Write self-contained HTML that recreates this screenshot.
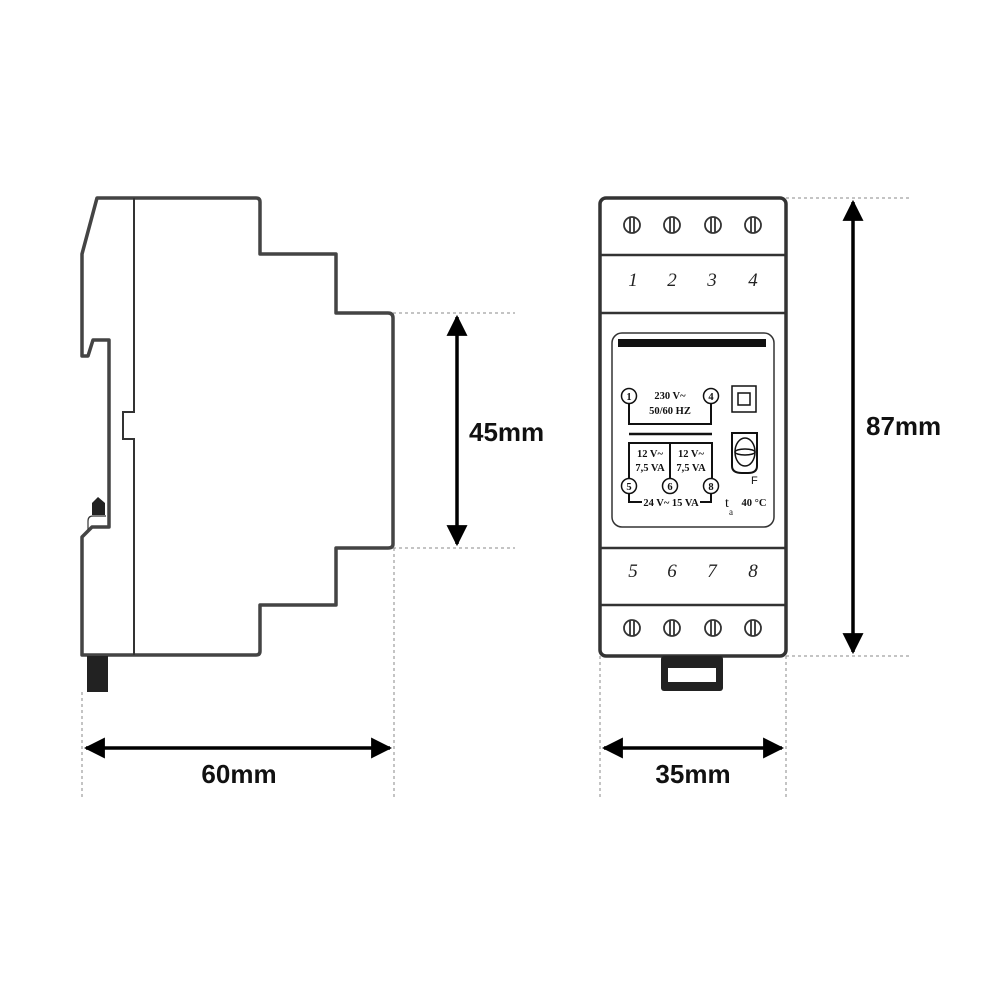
<!DOCTYPE html>
<html><head><style>body{margin:0;background:#fff}svg{display:block}</style></head><body>
<svg width="1000" height="1000" viewBox="0 0 1000 1000" xmlns="http://www.w3.org/2000/svg" font-family="Liberation Sans, sans-serif">
<defs><marker id="a" viewBox="0 0 10 10" refX="9" refY="5" markerWidth="6" markerHeight="6" orient="auto-start-reverse"><path d="M0,0L10,5L0,10z" fill="#000"/></marker></defs>
<g fill="none" stroke="#444" stroke-width="3.5" stroke-linejoin="round">
<path d="M97,198 L256,198 Q260,198 260,202 L260,254 L336,254 L336,313 L388,313 Q393,313 393,318 L393,544 Q393,548 388,548 L336,548 L336,605 L260,605 L260,651 Q260,655 256,655 L82,655 L82,537 L92,527 L109,527 L109,340 L93,340 L88,356 L82,356 L82,254 Z"/>
</g>
<path d="M134,198 V412 H123 V439 H134 V655" fill="none" stroke="#333" stroke-width="2"/>
<path d="M92,515 V503 L98,497 L105,503 V515 Z" fill="#222"/>
<path d="M88,530 V521 Q88,516 93,516 H106" fill="none" stroke="#333" stroke-width="1.2"/>
<rect x="87" y="656" width="21" height="36" fill="#222"/>
<rect x="600" y="198" width="186" height="458" rx="6" fill="none" stroke="#333" stroke-width="3.5"/>
<g stroke="#333" stroke-width="2.5"><line x1="600" y1="255" x2="786" y2="255"/><line x1="600" y1="313" x2="786" y2="313"/><line x1="600" y1="548" x2="786" y2="548"/><line x1="600" y1="605" x2="786" y2="605"/></g>
<g fill="none" stroke="#333" stroke-width="1.8">
<circle cx="632" cy="225" r="8"/><circle cx="672" cy="225" r="8"/><circle cx="713" cy="225" r="8"/><circle cx="753" cy="225" r="8"/>
<circle cx="632" cy="628" r="8"/><circle cx="672" cy="628" r="8"/><circle cx="713" cy="628" r="8"/><circle cx="753" cy="628" r="8"/>
<path d="M630,218V232M634,218V232M670,218V232M674,218V232M711,218V232M715,218V232M751,218V232M755,218V232M630,621V635M634,621V635M670,621V635M674,621V635M711,621V635M715,621V635M751,621V635M755,621V635"/>
</g>
<g font-family="Liberation Serif, serif" font-style="italic" font-size="19" fill="#222" text-anchor="middle">
<text x="633" y="286">1</text><text x="672" y="286">2</text><text x="712" y="286">3</text><text x="753" y="286">4</text>
<text x="633" y="577">5</text><text x="672" y="577">6</text><text x="712" y="577">7</text><text x="753" y="577">8</text>
</g>
<rect x="612" y="333" width="162" height="194" rx="10" fill="none" stroke="#333" stroke-width="1.5"/>
<rect x="618" y="339" width="148" height="8" fill="#111"/>
<g fill="none" stroke="#111" stroke-width="1.5">
<path d="M629,403V424H711V403" stroke-width="2"/>
<line x1="629" y1="434" x2="712" y2="434" stroke-width="2.5"/>
<path d="M629,478V443H712V478M670,443V478" stroke-width="2"/>
<path d="M629,492V502H642M700,502H711V492" stroke-width="2"/>
<circle cx="629" cy="396" r="7.5" fill="#fff"/><circle cx="711" cy="396" r="7.5" fill="#fff"/>
<circle cx="629" cy="486" r="7.5" fill="#fff"/><circle cx="670" cy="486" r="7.5" fill="#fff"/><circle cx="711" cy="486" r="7.5" fill="#fff"/>
<rect x="732" y="386" width="24" height="26" stroke-width="1.5"/><rect x="738" y="393" width="12" height="12"/>
<path d="M732,433H757V466Q757,473 748,473H742Q732,473 732,466Z" stroke-width="2"/>
<ellipse cx="745" cy="452" rx="10" ry="14"/><ellipse cx="745" cy="452" rx="10" ry="3"/>
</g>
<g font-family="Liberation Serif, serif" font-size="10.5" font-weight="bold" fill="#111" text-anchor="middle">
<text x="629" y="400">1</text><text x="711" y="400">4</text><text x="629" y="490">5</text><text x="670" y="490">6</text><text x="711" y="490">8</text>
<text x="670" y="399">230 V~</text><text x="670" y="414">50/60 HZ</text>
<text x="650" y="457">12 V~</text><text x="650" y="471">7,5 VA</text>
<text x="691" y="457">12 V~</text><text x="691" y="471">7,5 VA</text>
<text x="671" y="506">24 V~  15 VA</text>
<text x="727" y="507" font-size="14" font-weight="normal">t</text><text x="731" y="515" font-size="9" font-weight="normal">a</text>
<text x="754" y="506">40   °C</text>
</g>
<text x="751" y="484" font-size="11" fill="#111">F</text>
<rect x="661" y="656" width="62" height="35" rx="3" fill="#222"/>
<rect x="668" y="668" width="48" height="14" fill="#fff"/>
<g stroke="#888" stroke-width="1" stroke-dasharray="3,3">
<line x1="393" y1="313" x2="515" y2="313"/><line x1="393" y1="548" x2="515" y2="548"/>
<line x1="786" y1="198" x2="910" y2="198"/><line x1="786" y1="656" x2="910" y2="656"/>
<line x1="82" y1="692" x2="82" y2="798"/><line x1="394" y1="548" x2="394" y2="798"/>
<line x1="600" y1="656" x2="600" y2="798"/><line x1="786" y1="656" x2="786" y2="798"/>
</g>
<g stroke="#000" stroke-width="3.5" marker-start="url(#a)" marker-end="url(#a)">
<line x1="457" y1="317" x2="457" y2="544"/>
<line x1="853" y1="202" x2="853" y2="652"/>
<line x1="86" y1="748" x2="390" y2="748"/>
<line x1="604" y1="748" x2="782" y2="748"/>
</g>
<g font-weight="bold" font-size="26" fill="#111">
<text x="469" y="441">45mm</text>
<text x="866" y="435">87mm</text>
<text x="239" y="783" text-anchor="middle">60mm</text>
<text x="693" y="783" text-anchor="middle">35mm</text>
</g>
</svg>
</body></html>
